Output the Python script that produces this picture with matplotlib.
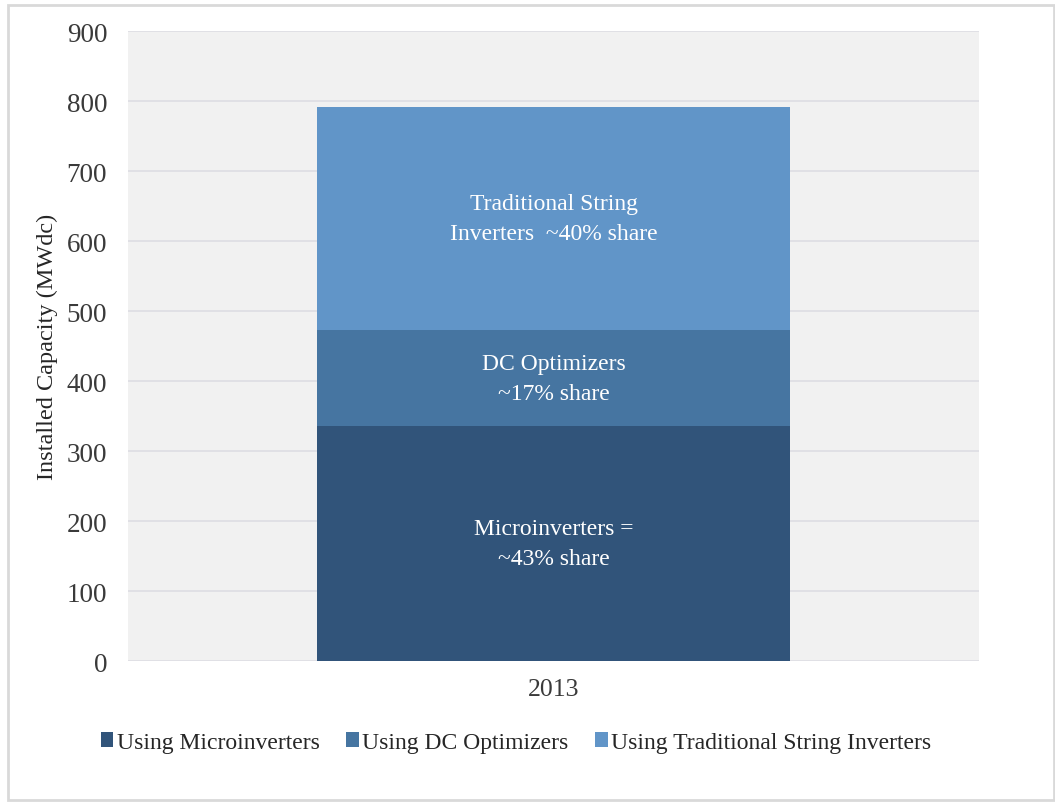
import numpy as np
import matplotlib.pyplot as plt
from matplotlib.patches import Rectangle

plt.rcParams['font.family'] = ['Liberation Serif', 'DejaVu Serif']

years = ['2013']
series = ['Using Microinverters', 'Using DC Optimizers', 'Using Traditional String Inverters']
values = [336, 137, 319]  # MWdc
seg_labels = ['Microinverters =\n~43% share',
              'DC Optimizers\n~17% share',
              'Traditional String\nInverters  ~40% share']
colors = ['#31547a', '#4675a1', '#6195c8']

fig = plt.figure(figsize=(10.55, 8.04), dpi=100)
ax = fig.add_axes([0.1213, 0.1762, 0.8067, 0.7836])
ax.set_facecolor('#f1f1f1')

x = np.arange(len(years))
bottom = 0
for name, val, lab, col in zip(series, values, seg_labels, colors):
    ax.bar(x, val, width=1.0, bottom=bottom, color=col, label=name, zorder=3)
    ax.text(x[0], bottom + val / 2, lab, ha='center', va='center',
            color='white', fontsize=17, linespacing=1.55, zorder=4)
    bottom += val

ax.set_xlim(-0.9, 0.9)
ax.set_ylim(0, 900)
ax.set_yticks(np.arange(0, 901, 100))
ax.set_xticks(x)
ax.set_xticklabels(years)
ax.yaxis.grid(True, color='#dddde3', linewidth=1.2, zorder=0)
for s in ax.spines.values():
    s.set_visible(False)
ax.tick_params(length=0, labelcolor='#3a3a3a')
ax.tick_params(axis='y', pad=15, labelsize=19.5)
ax.tick_params(axis='x', pad=12, labelsize=18.5)
ax.set_ylabel('Installed Capacity (MWdc)', fontsize=17.5, color='#262626', labelpad=6)

ax.legend(loc='upper center', bbox_to_anchor=(0.489, 0.115), bbox_transform=fig.transFigure,
          ncol=3, frameon=False, fontsize=17, handlelength=0.55, handleheight=0.55,
          handletextpad=0.15, columnspacing=1.1, labelcolor='#262626')

# thin frame around the whole chart
fig.patches.append(Rectangle((0.008, 0.004), 0.991, 0.988, transform=fig.transFigure,
                             fill=False, edgecolor='#d9d9d9', linewidth=2))

fig.savefig('out.png', dpi=100)
